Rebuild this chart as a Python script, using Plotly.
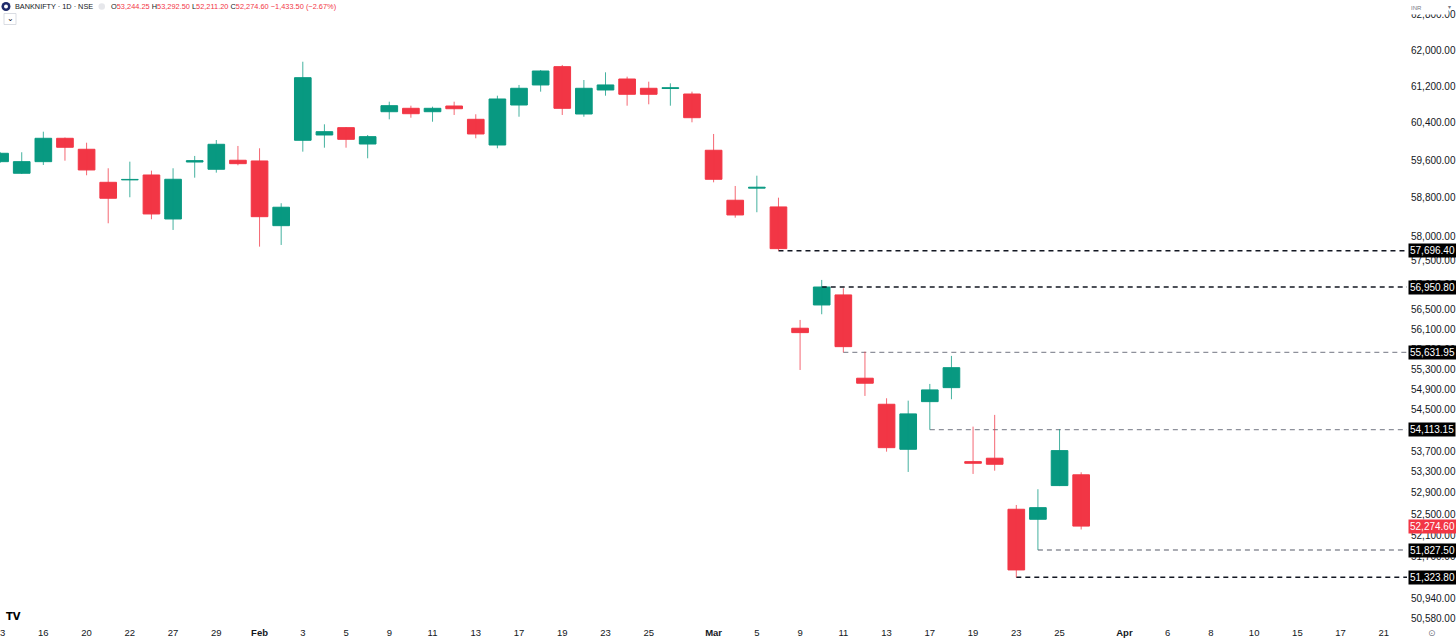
import math
import plotly.graph_objects as go

# BANKNIFTY daily sessions (NSE), Jan 13 - Mar 27 2026
dates = ["2026-01-13", "2026-01-14", "2026-01-16", "2026-01-19", "2026-01-20", "2026-01-21",
         "2026-01-22", "2026-01-23", "2026-01-27", "2026-01-28", "2026-01-29", "2026-01-30",
         "2026-02-01", "2026-02-02", "2026-02-03", "2026-02-04", "2026-02-05", "2026-02-06",
         "2026-02-09", "2026-02-10", "2026-02-11", "2026-02-12", "2026-02-13", "2026-02-16",
         "2026-02-17", "2026-02-18", "2026-02-19", "2026-02-20", "2026-02-23", "2026-02-24",
         "2026-02-25", "2026-02-26", "2026-02-27", "2026-03-02", "2026-03-04", "2026-03-05",
         "2026-03-06", "2026-03-09", "2026-03-10", "2026-03-11", "2026-03-12", "2026-03-13",
         "2026-03-16", "2026-03-17", "2026-03-18", "2026-03-19", "2026-03-20", "2026-03-23",
         "2026-03-24", "2026-03-25", "2026-03-27"]

# empty sessions to the right of the last bar
future_dates = ["2026-03-30", "2026-04-01", "2026-04-02", "2026-04-06", "2026-04-07", "2026-04-08",
                "2026-04-09", "2026-04-10", "2026-04-13", "2026-04-15", "2026-04-16", "2026-04-17",
                "2026-04-20", "2026-04-21", "2026-04-22"]

opens = [59568, 59321, 59568, 60069, 59833, 59129, 59180, 59284, 58357, 59560, 59406, 59598,
         59583, 58217, 60026, 60140, 60298, 59946, 60644, 60718, 60644, 60768, 60479, 59925,
         60790, 61228, 61631, 60594, 61118, 61359, 61155, 61150, 61030, 59812, 58750, 59005,
         58609, 56116, 56586, 56790, 55120, 54608, 53734, 54659, 54934, 53496, 53562, 52591,
         52403, 53039, 53244.25]
highs = [59775, 59769, 60211, 60086, 59974, 59427, 59568, 59376, 59427, 59690, 60032, 59904,
         59854, 58687, 61740, 60371, 60310, 60140, 60862, 60775, 60753, 60862, 60588, 60993,
         61228, 61557, 61668, 61337, 61506, 61410, 61300, 61264, 61081, 60162, 59051, 59269,
         58804, 56283, 57096, 56926, 55647, 54725, 54678, 55007, 55562, 54172, 54400, 52672,
         52970, 54120, 53292.50]
lows = [59540, 59306, 59497, 59589, 59278, 58267, 58813, 58351, 58128, 59227, 59334, 59491,
        57781, 57816, 59782, 59867, 59867, 59640, 60479, 60514, 60427, 60573, 60069, 59854,
        60535, 61081, 60573, 60535, 60993, 60775, 60805, 60775, 60414, 59129, 58384, 58498,
        57696.40, 55283, 56398, 55631.95, 54771, 53688, 53299, 54113.15, 54706, 53261, 53323,
        51323.80, 51827.50, 53030, 52211.20]
closes = [59747, 59568, 60069, 59876, 59391, 58792, 59190, 58462, 59193, 59590, 59940, 59525,
          58405, 58603, 61388, 60211, 60047, 60104, 60775, 60601, 60718, 60709, 60162, 60921,
          61155, 61535, 60718, 61155, 61228, 61024, 61024, 61168, 60514, 59193, 58441, 59025,
          57740, 56028, 56950.80, 55747, 55021, 53765, 54419, 54889, 55328, 53465, 53446,
          51460, 52621, 53708.10, 52274.60]

# horizontal rays drawn on the chart
levels = [57696.40, 56950.80, 55631.95, 54113.15, 51827.50, 51323.80]
level_dates = ["2026-03-06", "2026-03-10", "2026-03-11", "2026-03-17", "2026-03-24", "2026-03-23"]
level_dark = [True, True, False, False, False, True]

tick_dates = ["2026-01-13", "2026-01-16", "2026-01-20", "2026-01-22", "2026-01-27", "2026-01-29",
              "2026-02-01", "2026-02-03", "2026-02-05", "2026-02-09", "2026-02-11", "2026-02-13",
              "2026-02-17", "2026-02-19", "2026-02-23", "2026-02-25", "2026-03-02", "2026-03-05",
              "2026-03-09", "2026-03-11", "2026-03-13", "2026-03-17", "2026-03-19", "2026-03-23",
              "2026-03-25", "2026-04-01", "2026-04-06", "2026-04-08", "2026-04-10", "2026-04-15",
              "2026-04-17", "2026-04-21"]

price_ticks = [62800, 62000, 61200, 60400, 59600, 58800, 58000, 57500, 57000, 56500, 56100,
               55700, 55300, 54900, 54500, 53700, 53300, 52900, 52500, 52100, 51700, 50940, 50580]

GREEN = "#089981"
RED = "#f23645"
TXT = "#131722"
FONT = "Liberation Sans, Arial, sans-serif"
W, H = 1456, 642
ML, MR, MT, MB = 0, 49, 0, 17
PW, PH = W - ML - MR, H - MT - MB

all_dates = dates + future_dates
idx = {d: i for i, d in enumerate(all_dates)}
months = ["Jan", "Feb", "Mar", "Apr", "May", "Jun", "Jul", "Aug", "Sep", "Oct", "Nov", "Dec"]


def tick_label(d):
    i = idx[d]
    if i > 0 and all_dates[i - 1][5:7] != d[5:7]:
        return "<b>" + months[int(d[5:7]) - 1] + "</b>"
    return str(int(d[8:]))


def px(x):
    return x / PW


def py(y):
    return 1 - y / PH


fig = go.Figure()

# rays first so the candles sit on top
for lv, d, dark in zip(levels, level_dates, level_dark):
    fig.add_trace(go.Scatter(x=[idx[d], len(all_dates) + 5], y=[lv, lv], mode="lines",
                             line=dict(color=TXT if dark else "#8e919b", width=1.4,
                                       dash="5px,4px"),
                             hoverinfo="skip", showlegend=False))

xs = list(range(len(dates)))
for up, col in [(True, GREEN), (False, RED)]:
    wx, wy = [], []
    for i in xs:
        if (closes[i] >= opens[i]) == up:
            wx += [i, i, None]
            wy += [lows[i], highs[i], None]
    fig.add_trace(go.Scatter(x=wx, y=wy, mode="lines", line=dict(color=col, width=1),
                             opacity=0.75, hoverinfo="skip", showlegend=False))

body_base = [min(o, c) for o, c in zip(opens, closes)]
body_len = [abs(c - o) for o, c in zip(opens, closes)]
body_col = [GREEN if c >= o else RED for o, c in zip(opens, closes)]
fig.add_trace(go.Bar(x=xs, y=body_len, base=body_base, width=0.77,
                     marker=dict(color=body_col, line=dict(color=body_col, width=1)),
                     hoverinfo="skip", showlegend=False))

ann = []
# price scale, drawn as text so it hugs the plot edge like the TradingView scale
for v in price_ticks:
    ann.append(dict(x=1, xref="paper", xanchor="left", xshift=2, y=math.log10(v), yref="y",
                    text="{:,.2f}".format(v), showarrow=False,
                    font=dict(color=TXT, size=10, family=FONT)))
# price labels of the rays and last close on the axis
for lv in levels:
    ann.append(dict(x=1, xref="paper", xanchor="left", xshift=1, y=math.log10(lv), yref="y",
                    text="{:,.2f}".format(lv), showarrow=False, bgcolor="#000000", height=11,
                    font=dict(color="white", size=10, family=FONT), borderpad=1))
ann.append(dict(x=1, xref="paper", xanchor="left", xshift=1, y=math.log10(closes[-1]), yref="y",
                text="{:,.2f}".format(closes[-1]), showarrow=False, bgcolor=RED, height=11,
                font=dict(color="white", size=10, family=FONT), borderpad=1))

# header
o, h, l, c = opens[-1], highs[-1], lows[-1], closes[-1]
chg = c - closes[-2]
pct = chg / closes[-2] * 100
ohlc = ("<span style='color:%s'>O</span>%s <span style='color:%s'>H</span>%s "
        "<span style='color:%s'>L</span>%s <span style='color:%s'>C</span>%s %s (%s%%)") % (
    TXT, "{:,.2f}".format(o), TXT, "{:,.2f}".format(h), TXT, "{:,.2f}".format(l),
    TXT, "{:,.2f}".format(c), "{:,.2f}".format(chg).replace("-", "\u2212"),
    "{:.2f}".format(pct).replace("-", "\u2212"))
ann.append(dict(x=px(13), y=py(6.5), xref="paper", yref="paper", xanchor="left", yanchor="middle",
                text="BANKNIFTY \u00b7 1D \u00b7 NSE", showarrow=False,
                font=dict(color=TXT, size=7.3, family=FONT)))
ann.append(dict(x=px(109), y=py(6.5), xref="paper", yref="paper", xanchor="left", yanchor="middle",
                text=ohlc, showarrow=False, font=dict(color=RED, size=7.4, family=FONT)))
ann.append(dict(x=px(10), y=py(19), xref="paper", yref="paper", xanchor="center", yanchor="middle",
                text="\u2304", showarrow=False, font=dict(color=TXT, size=8, family="DejaVu Sans")))
ann.append(dict(x=px(4), y=py(616), xref="paper", yref="paper", xanchor="left", yanchor="middle",
                text="<b>TV</b>", showarrow=False,
                font=dict(color="#000000", size=10, family="DejaVu Sans")))
ann.append(dict(x=px(1432), y=py(633), xref="paper", yref="paper", xanchor="center",
                yanchor="middle", text="\u2299", showarrow=False,
                font=dict(color="#787b86", size=9, family="DejaVu Sans")))
ann.append(dict(x=px(1409), y=py(0), xref="paper", yref="paper", xanchor="left", yanchor="top",
                text="INR", showarrow=False, bgcolor="white", width=36, height=11, align="left",
                font=dict(color="#787b86", size=6, family=FONT)))
ann.append(dict(x=px(1449), y=py(6), xref="paper", yref="paper", xanchor="center",
                yanchor="middle", text="\u25be", showarrow=False,
                font=dict(color="#787b86", size=6, family="DejaVu Sans")))

shapes = [
    dict(type="circle", xref="paper", yref="paper", x0=px(1.5), x1=px(10.5), y0=py(11), y1=py(2),
         fillcolor="#1e2a6b", line=dict(width=0)),
    dict(type="circle", xref="paper", yref="paper", x0=px(4), x1=px(8), y0=py(8.5), y1=py(4.5),
         fillcolor="white", line=dict(width=0)),
    dict(type="circle", xref="paper", yref="paper", x0=px(98.5), x1=px(105), y0=py(9.8),
         y1=py(3.3), fillcolor="#e6e7eb", line=dict(width=0)),
    dict(type="rect", xref="paper", yref="paper", x0=px(4), x1=px(16), y0=py(24.5), y1=py(13.5),
         fillcolor="white", line=dict(color="#d1d4dc", width=0.8)),
]

fig.update_layout(
    width=W, height=H,
    margin=dict(l=ML, r=MR, t=MT, b=MB, autoexpand=False),
    paper_bgcolor="white", plot_bgcolor="white",
    barmode="overlay",
    showlegend=False,
    hovermode=False,
    annotations=ann,
    shapes=shapes,
    font=dict(family=FONT, color=TXT),
)
fig.update_xaxes(range=[-0.0046, 65.07], tickvals=[idx[d] for d in tick_dates],
                 ticktext=[tick_label(d) for d in tick_dates], tickangle=0, automargin=False,
                 ticklabeloverflow="allow",
                 showgrid=False, zeroline=False, showline=False, ticks="",
                 tickfont=dict(size=9.5, color=TXT, family=FONT), fixedrange=True)
fig.update_yaxes(type="log", range=[4.702898, 4.800174], side="right", automargin=False,
                 showticklabels=False, showgrid=False, zeroline=False, showline=False, ticks="",
                 fixedrange=True)

# page body has an 8px default margin; drop it so the chart fills the window
fig.write_html("out.html", config={"displayModeBar": False},
               post_script="document.body.style.margin='0';document.body.style.overflow='hidden';")
